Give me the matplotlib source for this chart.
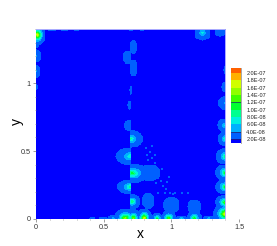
import matplotlib
matplotlib.use('Agg')
import matplotlib.pyplot as plt
from matplotlib.colors import ListedColormap, BoundaryNorm
import numpy as np

plt.rcParams['font.family'] = ['Liberation Sans', 'DejaVu Sans']

# hot spots: centre, peak (in steps of 2E-8), reach in x and y,
# side of the x=0.7 seam they stop at (-1 left only, 1 right only, 0 both)
peak_x = [1.40, 1.40, 1.40, 1.40, 1.40, 1.40, 1.40, 1.40, 1.40, 1.40,
          0.01, 0.00, 0.00, 0.00, 0.00,
          0.12, 0.21, 0.30, 0.70, 0.785, 1.23, 1.36,
          0.415, 0.495, 0.57, 0.66, 0.72, 0.80, 0.895, 0.98, 1.075, 1.17, 1.275,
          0.83, 1.00, 1.17, 0.84,
          0.70, 0.70, 0.71, 0.70, 0.71, 0.69,
          0.72, 0.68, 0.72, 0.70, 0.69]
peak_y = [0.035, 0.12, 0.235, 0.34, 0.46, 0.59, 0.69, 0.855, 0.975, 1.10,
          1.36, 1.29, 1.205, 1.09, 0.975,
          1.40, 1.40, 1.40, 1.40, 1.40, 1.375, 1.385,
          0.00, 0.00, 0.00, 0.00, 0.00, 0.00, 0.00, 0.00, 0.00, 0.00, 0.00,
          0.13, 0.10, 0.09, 0.34,
          0.59, 0.46, 0.335, 0.235, 0.125, 0.69,
          1.27, 1.195, 1.115, 0.95, 0.84]
peak_level = [9.5, 6.8, 6.0, 6.0, 5.0, 4.3, 3.5, 2.4, 1.8, 1.3,
              9.0, 1.5, 2.2, 2.2, 1.4,
              1.5, 1.5, 1.3, 1.3, 1.3, 3.4, 1.7,
              1.3, 1.5, 2.6, 8.0, 7.5, 9.0, 5.5, 7.0, 3.5, 6.0, 2.8,
              1.3, 1.4, 1.3, 1.2,
              4.2, 4.2, 5.6, 5.0, 5.0, 1.9,
              1.4, 1.5, 1.5, 1.2, 1.3]
reach_x = [0.09, 0.075, 0.075, 0.075, 0.07, 0.055, 0.06, 0.055, 0.03, 0.015,
           0.06, 0.02, 0.04, 0.03, 0.012,
           0.03, 0.03, 0.02, 0.015, 0.015, 0.06, 0.04,
           0.02, 0.03, 0.04, 0.08, 0.05, 0.055, 0.045, 0.055, 0.04, 0.055, 0.04,
           0.045, 0.06, 0.05, 0.08,
           0.09, 0.11, 0.125, 0.10, 0.06, 0.04,
           0.025, 0.035, 0.03, 0.01, 0.015]
reach_y = [0.075, 0.055, 0.055, 0.06, 0.06, 0.055, 0.05, 0.05, 0.04, 0.03,
           0.075, 0.03, 0.045, 0.05, 0.02,
           0.012, 0.012, 0.01, 0.01, 0.01, 0.055, 0.035,
           0.01, 0.015, 0.025, 0.075, 0.07, 0.075, 0.04, 0.06, 0.02, 0.06, 0.02,
           0.06, 0.06, 0.05, 0.06,
           0.065, 0.065, 0.07, 0.055, 0.055, 0.04,
           0.05, 0.05, 0.06, 0.03, 0.03]
seam_side = [0] * 25 + [-1, 1] + [0] * 10 + [1, -1, 1, -1, 1, -1] + [1, -1, 1, 0, -1]

# isolated light specks in the lower middle, data units
speck_x = [0.81, 0.84, 0.86, 0.83, 0.88, 0.85, 0.87, 0.90, 0.92, 0.89, 0.94, 0.96, 0.91, 0.93, 0.98, 0.88,
           0.90, 0.95, 0.99, 1.03, 1.08, 1.12, 0.82, 0.86, 0.97, 1.01]
speck_y = [0.52, 0.49, 0.45, 0.43, 0.41, 0.38, 0.34, 0.30, 0.28, 0.26, 0.24, 0.22, 0.33, 0.37, 0.31, 0.47,
           0.19, 0.19, 0.19, 0.19, 0.19, 0.19, 0.47, 0.54, 0.27, 0.18]

band_colors = ['#0000ff', '#0060ff', '#00b0ff', '#00f0e0', '#00ff90', '#00ff30',
               '#40ff00', '#90ff00', '#d0ff00', '#ffb000', '#ff6000', '#ff0000']
bar_labels = ['2.0E-08', '4.0E-08', '6.0E-08', '8.0E-08', '1.0E-07', '1.2E-07',
              '1.4E-07', '1.6E-07', '1.8E-07', '2.0E-07']
bar_lines = ['2.0E-08', '4.0E-08', '1.2E-07']

x_max = 1.4
seam = 0.7
xs = np.linspace(0, x_max, 281)
ys = np.linspace(0, x_max, 281)
gx, gy = np.meshgrid(xs, ys)
field = np.full(gx.shape, 0.5)
for cx, cy, pk, rx, ry, side in zip(peak_x, peak_y, peak_level, reach_x, reach_y, seam_side):
    d = np.sqrt(((gx - cx) / rx) ** 2 + ((gy - cy) / ry) ** 2)
    blob = np.where(d < 1, 1 + (pk - 1) * (1 - d) ** 2.2, 0.5)
    if side < 0:
        blob[gx > seam] = 0.5
    if side > 0:
        blob[gx < seam] = 0.5
    field = np.maximum(field, blob)
values = field * 2e-8
levels = np.arange(0, 13) * 2e-8

fig = plt.figure(figsize=(2.77, 2.46), dpi=100)
ax = fig.add_axes([36 / 277, 27.5 / 246, 203 / 277, 189.5 / 246])
ax.contourf(xs, ys, values, levels=levels, colors=band_colors)
ax.scatter(speck_x, speck_y, s=1.5, marker='s', color=band_colors[1], linewidths=0)
ax.plot([0, x_max, x_max], [x_max, x_max, 0], color='#b0b0ff', lw=0.7)

ax.set_xlim(0, 1.5)
ax.set_ylim(0, 189.5 / 135)
for s in ax.spines.values():
    s.set_visible(False)
ax.set_xticks([0, 0.5, 1, 1.5])
ax.set_xticklabels(['0', '0.5', '1', '1.5'])
ax.set_yticks([0, 0.5, 1])
ax.set_yticklabels(['0', '0.5', '1'])
ax.set_xticks(np.arange(0, 1.51, 0.1), minor=True)
ax.set_yticks(np.arange(0, 1.41, 0.1), minor=True)
ax.tick_params(which='major', length=2, width=0.4, color='#555555', labelsize=5.2, labelcolor='#333333', pad=2)
ax.tick_params(which='minor', length=1, width=0.4, color='#777777')
ax.set_xlabel('x', fontsize=10, va='center')
ax.xaxis.set_label_coords(0.512, -0.08)
ax.set_ylabel('y', fontsize=10, va='center')
ax.yaxis.set_label_coords(-0.094, 0.51)

# legend bar
cax = fig.add_axes([231 / 277, (246 - 143) / 246, 9.7 / 277, 75 / 246])
edges = np.array([0.45] + list(range(1, 11)) + [10.68])
cmap = ListedColormap(band_colors[:11])
cax.pcolormesh([0, 1], edges, np.arange(11).reshape(-1, 1), cmap=cmap,
               norm=BoundaryNorm(np.arange(12) - 0.5, 11))
for i, lab in enumerate(bar_labels):
    if lab in bar_lines:
        cax.axhline(i + 1, color='#222266', lw=0.5)
cax.set_xticks([])
cax.yaxis.tick_right()
cax.set_yticks(np.arange(1, 11))
cax.set_yticklabels(bar_labels)
cax.tick_params(length=0, labelsize=4.0, labelcolor='#222222', pad=4)
for s in ['top', 'left', 'bottom']:
    cax.spines[s].set_visible(False)
cax.spines['right'].set_color('#999999')
cax.spines['right'].set_linewidth(0.6)

fig.savefig('out.png', dpi=100)
